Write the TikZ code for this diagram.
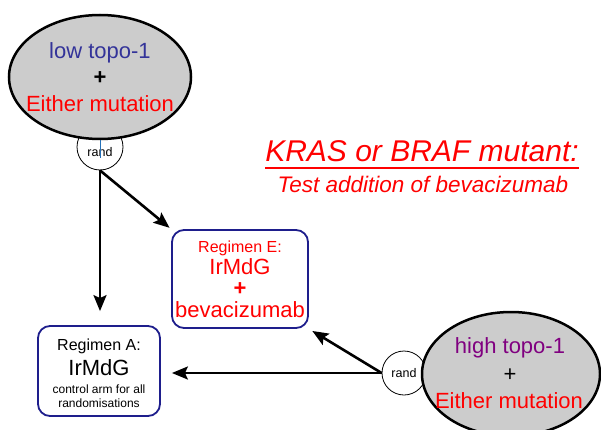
\documentclass[tikz,border=0pt]{standalone}
\usepackage{fontspec}
\setmainfont{Liberation Sans}
\usetikzlibrary{arrows.meta,shapes.geometric}
\definecolor{topofill}{RGB}{204,204,204}
\definecolor{boxblue}{RGB}{30,30,140}
\definecolor{lowblue}{RGB}{51,51,153}
\definecolor{highpurple}{RGB}{128,0,128}
\tikzset{
	topo/.style={ellipse, draw=black, line width=2.5pt, fill=topofill, minimum width=182pt, minimum height=124pt},
	randnode/.style={circle, draw=black, line width=0.8pt, fill=white, minimum size=46pt, inner sep=0pt},
	regbox/.style={draw=boxblue, line width=1.8pt, rounded corners=12pt, fill=white},
	txt/.style={inner sep=0pt, anchor=base},
	arm/.style={line width=2.6pt, -{Stealth[length=16pt,width=13pt,inset=3pt]}}
}

\begin{document}
\begin{tikzpicture}[x=1pt,y=-1pt]
			%%%%% START %%%%%
			
			\clip (0,0) rectangle (601,430);
			
			% low topo-1 arm
			\node[randnode] (randlow) at (100,147) {};
			\node[topo] (lowtopo) at (100,77) {};
			\node[txt, text=lowblue, font=\fontsize{22}{26}\selectfont] (lowtxt) at (100,59) {low topo-1};
			\node[inner sep=0pt, font=\fontsize{22}{26}\selectfont\bfseries] (lowplus) at (100,78) {+};
			\node[txt, text=red, font=\fontsize{22}{26}\selectfont] (lowmut) at (100,112) {Either mutation};
			\node[txt, font=\fontsize{12.5}{15}\selectfont] (randlowtxt) at (100,157) {rand};
			\coordinate (bluetip) at (100,158);
			\draw[lowblue!70!cyan, line width=0.6pt] (lowtopo.south) -- (bluetip);
			
			% high topo-1 arm
			\node[randnode, minimum size=44pt] (randhigh) at (404,373) {};
			\node[topo, minimum width=178pt] (hightopo) at (511,374) {};
			\node[txt, text=highpurple, font=\fontsize{22}{26}\selectfont] (hightxt) at (510,353) {high topo-1};
			\node[inner sep=0pt, font=\fontsize{22}{26}\selectfont] (highplus) at (510,375) {+};
			\node[txt, text=red, font=\fontsize{22}{26}\selectfont] (highmut) at (509,408) {Either mutation};
			\node[txt, font=\fontsize{12.5}{15}\selectfont] (randhightxt) at (404,377) {rand};
			
			% regimens
			\node[regbox, minimum width=136pt, minimum height=98pt] (regE) at (240,279) {};
			\node[txt, text=red, font=\fontsize{16}{19}\selectfont] (regEtitle) at (240,252) {Regimen E:};
			\node[txt, text=red, font=\fontsize{22}{26}\selectfont] (regEdrug) at (240,274) {IrMdG};
			\node[inner sep=0pt, text=red, font=\fontsize{22}{26}\selectfont\bfseries] (regEplus) at (240,289) {+};
			\node[txt, text=red, font=\fontsize{22}{26}\selectfont] (regEbev) at (240,317) {bevacizumab};
			
			\node[regbox, minimum width=122pt, minimum height=90pt] (regA) at (99,371) {};
			\node[txt, font=\fontsize{16}{19}\selectfont] (regAtitle) at (99,350) {Regimen A:};
			\node[txt, font=\fontsize{22}{26}\selectfont] (regAdrug) at (99,375) {IrMdG};
			\node[txt, font=\fontsize{12}{14}\selectfont] (regActrl) at (99,393) {control arm for all};
			\node[txt, font=\fontsize{12}{14}\selectfont] (regArand) at (99,407) {randomisations};
			
			% heading
			\node[txt, text=red, font=\fontsize{30}{34}\selectfont\itshape] (title) at (422,162) {KRAS or BRAF mutant:};
			\draw[red, line width=2pt] ([yshift=-6pt]title.base west) -- ([yshift=-6pt]title.base east);
			\node[txt, text=red, font=\fontsize{22.5}{26}\selectfont\itshape] (subtitle) at (423,193) {Test addition of bevacizumab};
			
			% randomisation arrows
			\draw[arm, shorten >=14pt] (randlow.south) -- (randlow.south |- regA.north);
			\draw[arm, shorten >=2pt] (randlow.south) -- (regE.north west);
			\draw[arm, shorten >=11pt] (randhigh.west) -- (randhigh.west -| regA.east);
			\draw[arm, shorten >=4pt] (randhigh.west) -- (regE.south east);
			
			%%%%% END %%%%%
		\end{tikzpicture}
\end{document}
